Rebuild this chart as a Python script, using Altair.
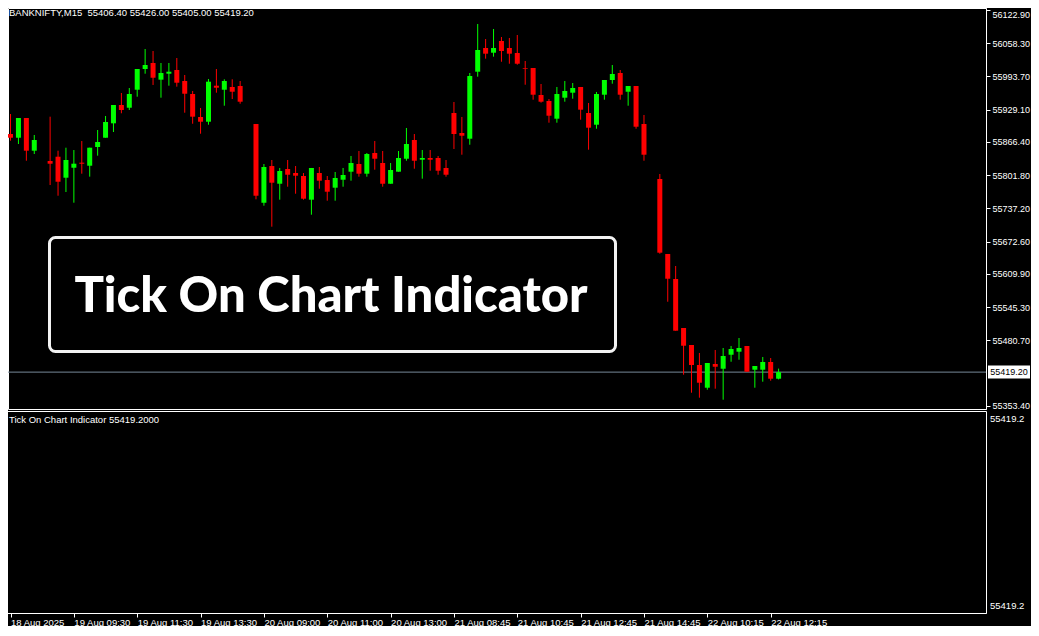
import altair as alt
import pandas as pd

# ---------------- data ----------------
symbol = "BANKNIFTY,M15"
indicator_name = "Tick On Chart Indicator"

bar_index = [0, 1, 2, 3, 5, 6, 7, 8, 9, 10, 11, 12, 13, 14, 15, 16, 17, 18, 19, 20,
             21, 22, 23, 24, 25, 26, 27, 28, 29, 31, 32, 33, 34, 35, 36, 37, 38, 39, 40,
             41, 42, 43, 44, 45, 46, 47, 48, 49, 50, 51, 52, 53, 54, 55, 56, 57, 58, 59,
             60, 61, 62, 63, 64, 65, 66, 67, 68, 69, 70, 71, 72, 73, 74, 75, 76, 77, 78,
             79, 80, 82, 83, 84, 85, 86, 87, 88, 89, 90, 91, 92, 93, 94, 95, 96, 97]

opens = [55881.9, 55874.7, 55913.0, 55849.5, 55829.5, 55837.8, 55797.0, 55816.4, 55826.2, 55820.3,
         55856.7, 55874.7, 55902.7, 55938.3, 55933.0, 55968.0, 56008.2, 56019.9, 55987.5, 55999.1,
         56006.3, 55984.9, 55959.7, 55915.0, 55905.8, 55975.8, 55968.0, 55973.3, 55975.2,
         55901.4, 55748.4, 55819.7, 55785.3, 55813.9, 55806.1, 55800.3, 55754.3, 55806.1, 55792.5,
         55777.6, 55793.1, 55808.7, 55823.6, 55804.8, 55845.0, 55825.6, 55785.3, 55808.7, 55833.9,
         55870.3, 55832.0, 55835.3, 55835.3, 55815.9, 55922.7, 55883.9, 55872.8, 56003.0,
         56049.1, 56039.9, 56062.7, 56049.1, 56039.3, 56009.6, 56010.2, 55957.7, 55946.1, 55911.7,
         55952.5, 55962.2, 55973.3, 55922.7, 55900.0, 55958.3, 55986.9, 56000.5, 55964.1,
         55975.2, 55901.4, 55794.5, 55648.7, 55600.2, 55504.9, 55471.9, 55433.0, 55388.9, 55435.0,
         55425.8, 55453.0, 55458.9, 55470.0, 55423.9, 55423.9, 55438.9, 55406.4]

highs = [55920.8, 55913.0, 55913.0, 55880.0, 55915.6, 55849.5, 55855.3, 55850.8, 55868.3, 55855.3,
         55889.7, 55916.9, 55938.3, 55961.6, 55971.3, 56008.2, 56047.1, 56043.2, 56019.9, 56019.9,
         56029.6, 55996.6, 55965.5, 55932.5, 55988.8, 56008.2, 55988.2, 55988.2, 55984.9,
         55901.4, 55823.6, 55831.4, 55815.9, 55831.4, 55819.7, 55806.1, 55815.9, 55817.8, 55800.3,
         55808.1, 55815.9, 55839.2, 55848.9, 55845.0, 55868.3, 55848.9, 55825.6, 55848.9, 55893.6,
         55881.9, 55850.8, 55850.8, 55839.2, 55831.4, 55944.1, 55915.0, 56000.5, 56095.7,
         56066.5, 56086.0, 56070.4, 56068.5, 56074.3, 56023.8, 56010.2, 55979.1, 55949.9, 55973.3,
         55984.9, 55981.0, 55973.3, 55942.2, 55963.6, 55986.9, 56016.0, 56006.3, 55975.2,
         55975.2, 55918.9, 55804.2, 55648.7, 55625.4, 55504.9, 55471.9, 55456.4, 55436.9, 55462.2,
         55466.1, 55470.0, 55485.5, 55470.0, 55431.1, 55448.6, 55446.6, 55426.0]

lows = [55868.9, 55862.5, 55830.0, 55843.1, 55782.8, 55762.0, 55769.2, 55748.4, 55804.8, 55799.0,
        55839.8, 55874.7, 55885.8, 55922.2, 55928.6, 55954.4, 55999.1, 55977.2, 55952.5, 55975.8,
        55973.9, 55923.3, 55901.9, 55882.5, 55900.0, 55962.2, 55936.9, 55949.9, 55940.8,
        55755.0, 55742.6, 55701.8, 55754.3, 55779.5, 55765.9, 55754.3, 55725.1, 55775.6, 55752.3,
        55752.3, 55779.5, 55791.2, 55799.0, 55799.0, 55812.6, 55779.5, 55785.3, 55808.7, 55830.0,
        55814.5, 55795.1, 55810.6, 55802.8, 55799.0, 55852.8, 55841.7, 55861.1, 55993.3,
        56028.3, 56032.2, 56022.4, 56018.5, 56016.6, 55977.7, 55948.6, 55942.8, 55903.9, 55903.9,
        55944.7, 55950.5, 55909.7, 55851.4, 55892.2, 55948.6, 55979.7, 55948.6, 55936.9,
        55892.2, 55830.0, 55649.3, 55556.0, 55499.7, 55414.2, 55379.2, 55369.5, 55385.0, 55387.0,
        55365.6, 55439.4, 55443.3, 55420.0, 55388.9, 55400.6, 55402.5, 55405.0]

closes = [55874.7, 55913.0, 55849.5, 55870.3, 55824.2, 55789.2, 55831.4, 55824.2, 55824.2, 55855.3,
          55866.4, 55905.3, 55938.3, 55928.6, 55959.7, 56008.2, 56016.0, 55991.3, 56000.5, 56003.0,
          55981.6, 55960.2, 55915.6, 55905.8, 55983.6, 55971.9, 55984.9, 55964.1, 55944.7,
          55762.0, 55817.8, 55787.3, 55810.0, 55802.8, 55800.9, 55756.2, 55815.9, 55791.2, 55769.8,
          55796.4, 55802.3, 55825.6, 55804.8, 55843.1, 55833.9, 55785.3, 55812.0, 55835.3, 55862.5,
          55830.0, 55835.3, 55832.0, 55810.6, 55802.8, 55881.9, 55878.6, 55994.6, 56045.2,
          56038.0, 56049.1, 56043.2, 56038.0, 56018.5, 56008.2, 55958.3, 55944.7, 55917.5, 55959.7,
          55965.5, 55971.3, 55929.2, 55894.2, 55959.7, 55986.9, 55998.5, 55958.3, 55975.2,
          55896.1, 55841.7, 55651.3, 55600.7, 55499.7, 55470.5, 55433.0, 55398.6, 55436.9, 55429.7,
          55450.5, 55464.1, 55466.1, 55420.0, 55431.1, 55438.9, 55406.4, 55419.2]

time_tick_index = [0, 8, 16, 24, 32, 40, 48, 56, 64, 72, 80, 88, 96]
time_tick_labels = ["18 Aug 2025", "19 Aug 09:30", "19 Aug 11:30", "19 Aug 13:30",
                    "20 Aug 09:00", "20 Aug 11:00", "20 Aug 13:00", "21 Aug 08:45",
                    "21 Aug 10:45", "21 Aug 12:45", "21 Aug 14:45", "22 Aug 10:15",
                    "22 Aug 12:15"]

price_ticks = [56122.90, 56058.30, 55993.70, 55929.10, 55866.40, 55801.80, 55737.20,
               55672.60, 55609.90, 55545.30, 55480.70, 55353.40]

# ---------------- layout / style ----------------
FONT = "Liberation Sans"
FS = 9.5
FS_R = 9
GREEN = "#00ff00"
RED = "#ff0000"
W, H = 978, 401            # main price panel
X_DOMAIN = [0.3125, 122.5625]
Y_DOMAIN = [55347.54, 56126.79]

df = pd.DataFrame({"i": bar_index, "open": opens, "high": highs,
                   "low": lows, "close": closes})
df["dir"] = ["up" if c >= o else "down" for o, c in zip(opens, closes)]

last = df.iloc[-1]
last_close = float(last["close"])

label_js = "[" + ",".join("'%s'" % s for s in time_tick_labels) + "]"

x_enc = alt.X("i:Q",
              scale=alt.Scale(domain=X_DOMAIN, nice=False, zero=False),
              axis=alt.Axis(values=time_tick_index, offset=204, orient="bottom",
                            labelExpr=label_js + "[round(datum.value/8)]",
                            labelAlign="left", labelBaseline="top", labelPadding=0,
                            labelFontSize=FS,
                            tickSize=4, labelOverlap=False, labelBound=False,
                            labelFlush=False, title=None, grid=False))
y_scale = alt.Scale(domain=Y_DOMAIN, nice=False, zero=False)
y_axis = alt.Axis(values=price_ticks, format=".2f", orient="right", tickSize=4,
                  labelPadding=2, labelFontSize=FS_R, title=None, grid=False,
                  labelOverlap=False, labelBound=False, labelFlush=2.5)
color_enc = alt.Color("dir:N", scale=alt.Scale(domain=["up", "down"], range=[GREEN, RED]),
                      legend=None)

base = alt.Chart(df)

wicks = base.mark_rule(strokeWidth=1).encode(
    x=x_enc,
    y=alt.Y("low:Q", scale=y_scale, axis=y_axis),
    y2="high:Q",
    color=color_enc,
)
bodies = base.mark_bar(size=5).encode(
    x=x_enc,
    y=alt.Y("open:Q", scale=y_scale, axis=y_axis),
    y2="close:Q",
    color=color_enc,
)

last_df = pd.DataFrame({"price": [last_close],
                        "label": ["%.2f" % last_close]})
price_line = alt.Chart(last_df).mark_rule(color="#778899", strokeWidth=1).encode(
    y=alt.Y("price:Q", scale=y_scale, axis=y_axis)
)
box_shape = "M-1,-0.3095L1,-0.3095L1,0.3095L-1,0.3095Z"
price_box = alt.Chart(last_df).mark_point(
    shape=box_shape, size=1764, filled=True, color="white", opacity=1
).encode(x=alt.value(1001), y=alt.Y("price:Q", scale=y_scale, axis=y_axis))
price_txt = alt.Chart(last_df).mark_text(
    color="black", font=FONT, fontSize=FS_R, align="center", baseline="middle"
).encode(x=alt.value(1001), y=alt.Y("price:Q", scale=y_scale, axis=y_axis),
         text="label:N")

header = "%s\u00a0 %.2f %.2f %.2f %.2f" % (symbol, last["open"], last["high"],
                                           last["low"], last["close"])
txt_df = pd.DataFrame({
    "t": [header,
          "%s %.4f" % (indicator_name, last_close),
          "%.1f" % last_close,
          "%.1f" % last_close],
    "px": [1, 1, 982, 982],
    "py": [5, 412, 411, 598],
})
texts = alt.layer(*[
    alt.Chart(txt_df.iloc[[k]]).mark_text(
        color="white", font=FONT, fontSize=FS, align="left", baseline="middle"
    ).encode(x=alt.value(int(txt_df.px[k])), y=alt.value(int(txt_df.py[k])), text="t:N")
    for k in range(len(txt_df))
])

one = pd.DataFrame({"t": [indicator_name]})
lower_frame = alt.Chart(one).mark_rect(
    fillOpacity=0, stroke="white", strokeWidth=1
).encode(x=alt.value(-2), x2=alt.value(978.5), y=alt.value(403.5), y2=alt.value(605.5))

banner_box = alt.Chart(one).mark_rect(
    fill="black", fillOpacity=1, stroke="#f2f2f2", strokeWidth=3, cornerRadius=6
).encode(x=alt.value(41.5), x2=alt.value(607.5), y=alt.value(229.5), y2=alt.value(343.5))
banner_txt = alt.Chart(one).mark_text(
    color="white", font="Lato", fontWeight=900, fontSize=49,
    align="center", baseline="alphabetic"
).encode(x=alt.value(323), y=alt.value(304), text="t:N")

chart = alt.layer(
    price_line, wicks, bodies, price_box, price_txt,
    lower_frame, banner_box, banner_txt, texts
).properties(
    width=W, height=H, autosize="none",
    padding={"left": 0, "top": 0, "right": 45, "bottom": 217},
    background="black",
).configure_view(
    stroke="white", strokeWidth=1
).configure_axis(
    labelFont=FONT, labelFontSize=FS, labelColor="white",
    tickColor="white", domainColor="white", domainWidth=1, tickWidth=1,
)

chart.save("out.html", embed_options={"renderer": "svg", "actions": False})
